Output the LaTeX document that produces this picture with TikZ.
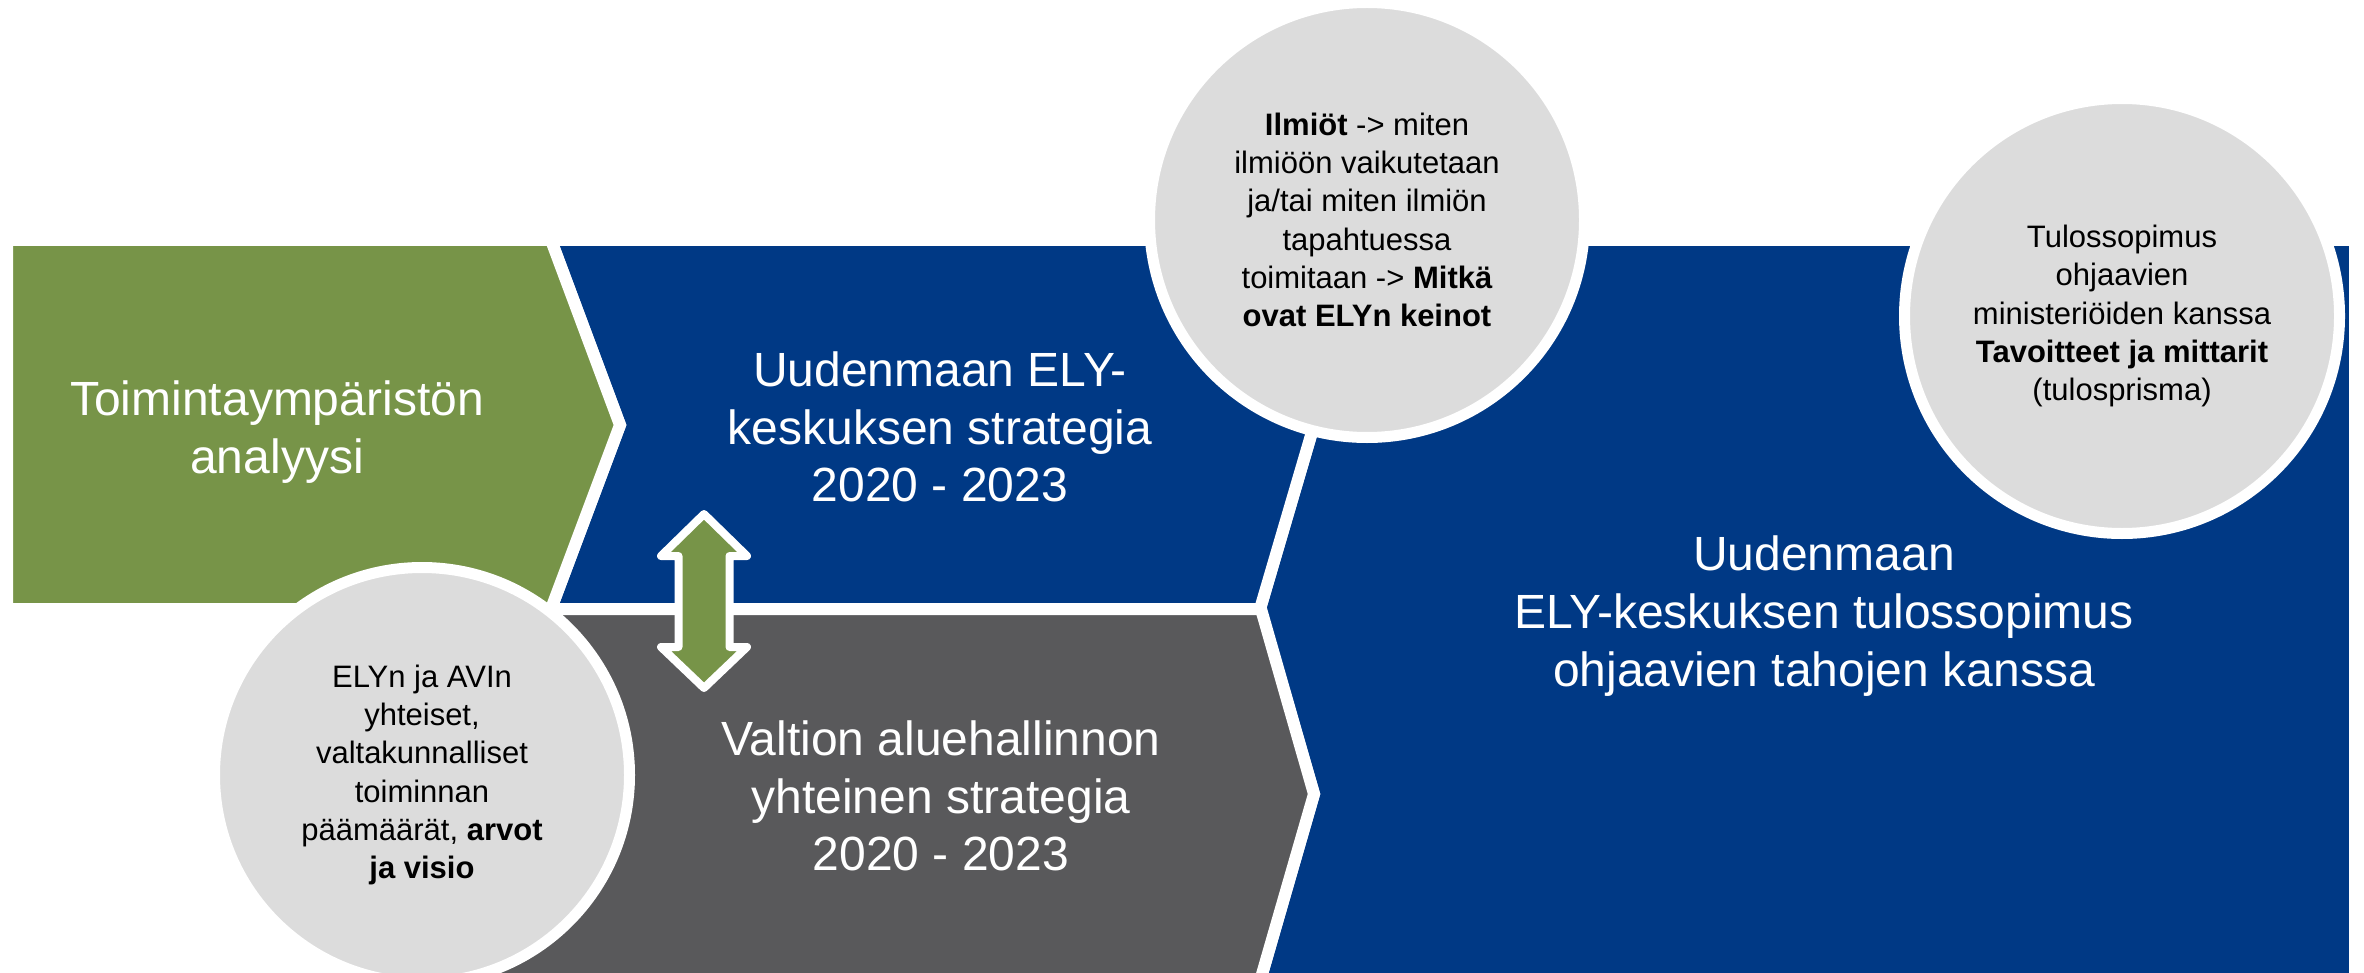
\documentclass[tikz,border=0pt]{standalone}
\usepackage{fontspec}
\setmainfont{Liberation Sans}
\definecolor{elyblue}{RGB}{0,57,133}
\definecolor{elygreen}{RGB}{119,148,72}
\definecolor{elygray}{RGB}{89,89,91}
\definecolor{bubblegray}{RGB}{220,220,220}
\begin{document}
\begin{tikzpicture}[x=0.25pt,y=-0.25pt,
  shapeedge/.style={draw=white,line width=3pt,line join=miter},
  bigtext/.style={text=white,align=center,inner sep=0pt,font=\fontsize{12}{14.4}\selectfont},
  bubble/.style={circle,fill=bubblegray,draw=white,line width=2.75pt,inner sep=0pt,
    align=center,text=black,font=\fontsize{7.75}{9.55}\selectfont},
  twoarrow/.style={fill=elygreen,draw=white,line width=2pt,line join=round}]
\useasboundingbox (0,0) rectangle (2364,973);
\begin{scope}
  \clip (0,0) rectangle (2364,973);
  % right big shape
  \path[shapeedge,fill=elyblue] (1260,240) -- (2355,240) -- (2355,995) -- (1256,995)
     -- (1314,794) -- (1260,609) -- (1314,425) -- cycle;
  % ELY strategy chevron
  \path[shapeedge,fill=elyblue] (551,240) -- (1260,240) -- (1314,425) -- (1260,609)
     -- (551,609) -- (620,425) -- cycle;
  % state strategy chevron
  \path[shapeedge,fill=elygray] (450,609) -- (1261,609) -- (1314,794) -- (1256,995)
     -- (450,995) -- cycle;
  % green chevron
  \path[shapeedge,fill=elygreen] (7,240) -- (551,240) -- (620,425) -- (551,609)
     -- (7,609) -- cycle;
\end{scope}
\node[bigtext] (analyysi) at (277,432) {Toimintaympäristön\\analyysi};
\node[bigtext] (ely) at (940,427) {Uudenmaan ELY-\\keskuksen strategia\\2020 - 2023};
\node[bigtext] (valtio) at (941,796) {Valtion aluehallinnon\\yhteinen strategia\\2020 - 2023};
\node[bigtext] (tulos) at (1824,616) {Uudenmaan\\ELY-keskuksen tulossopimus\\ohjaavien tahojen kanssa};
% double arrow
\path[twoarrow] (704,514) -- (747,556) -- (729.5,556) -- (729.5,647) -- (747,647)
   -- (704,688) -- (661,647) -- (678.5,647) -- (678.5,556) -- (661,556) -- cycle;
% bubbles
\node[bubble,minimum size=108.75pt] (c1) at (1367,220)
  {\textbf{Ilmiöt} -> miten\\ilmiöön vaikutetaan\\ja/tai miten ilmiön\\tapahtuessa\\toimitaan -> \textbf{Mitkä}\\\textbf{ovat ELYn keinot}};
\node[bubble,minimum size=108.75pt] (c2) at (2122,316)
  {Tulossopimus\\ohjaavien\\ministeriöiden kanssa\\\textbf{Tavoitteet ja mittarit}\\(tulosprisma)};
\node[bubble,minimum size=103.75pt] (c3) at (422,775)
  {ELYn ja AVIn\\yhteiset,\\valtakunnalliset\\toiminnan\\päämäärät, \textbf{arvot}\\\textbf{ja visio}};
\end{tikzpicture}
\end{document}
